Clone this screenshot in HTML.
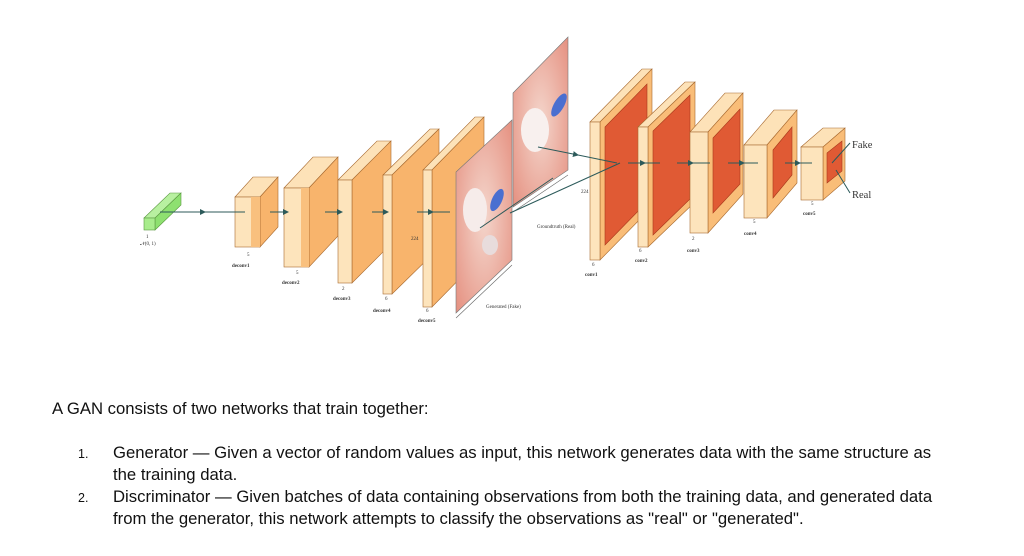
<!DOCTYPE html>
<html><head><meta charset="utf-8"><style>
html,body{margin:0;padding:0;background:#fff;width:1024px;height:556px;overflow:hidden}
.t{position:absolute;font-family:"Liberation Sans",Arial,sans-serif;font-size:16.7px;color:#111;line-height:21.5px;white-space:nowrap}
.n{font-size:12.5px}
</style></head><body>
<svg width="1024" height="360" style="position:absolute;left:0;top:0" font-family="Liberation Serif,serif">
<defs>
<radialGradient id="hm" cx="0.5" cy="0.5" r="0.7">
<stop offset="0" stop-color="#f4d6cc"/><stop offset="1" stop-color="#e59080"/></radialGradient>
<marker id="ah" markerWidth="6" markerHeight="6" refX="5" refY="3" orient="auto"><path d="M0,0L6,3L0,6z" fill="#2c5a5a"/></marker>
</defs>
<g stroke="#b07a40" stroke-width="0.6">
<polygon points="144,218 155,218 181,193 170,193" fill="#b8f0a0" stroke="#5a9a40"/>
<polygon points="155,218 181,193 181,205 155,230" fill="#8ee070" stroke="#5a9a40"/>
<rect x="144" y="218" width="11" height="12" fill="#a8ec8c" stroke="#5a9a40"/>
</g>
<g stroke="#a86a30" stroke-width="0.6">
<polygon points="235,197 260,197 278,177 253,177" fill="#fde2b8"/>
<polygon points="260,197 278,177 278,227 260,247" fill="#f8b46c"/>
<rect x="235" y="197" width="25" height="50" fill="#fde4bc"/><rect x="251" y="197" width="9" height="50" fill="#f9c07e" stroke="none"/>

<polygon points="284,188 309,188 338,157 313,157" fill="#fde2b8"/>
<polygon points="309,188 338,157 338,236 309,267" fill="#f8b46c"/>
<rect x="284" y="188" width="25" height="79" fill="#fde4bc"/><rect x="301" y="188" width="8" height="79" fill="#f9c07e" stroke="none"/>

<polygon points="338,180 352,180 391,141 377,141" fill="#fde2b8"/>
<polygon points="352,180 391,141 391,244 352,283" fill="#f8b46c"/>
<rect x="338" y="180" width="14" height="103" fill="#fde4bc"/>

<polygon points="383,175 392,175 439,129 430,129" fill="#fde2b8"/>
<polygon points="392,175 439,129 439,248 392,294" fill="#f8b46c"/>
<rect x="383" y="175" width="9" height="119" fill="#fde4bc"/>

<polygon points="423,170 432,170 484,117 475,117" fill="#fde2b8"/>
<polygon points="432,170 484,117 484,254 432,307" fill="#f8b46c"/>
<rect x="423" y="170" width="9" height="137" fill="#fde4bc"/>
</g>
<polygon points="456,172 512,120 512,260 456,313" fill="url(#hm)" stroke="#777" stroke-width="0.6"/>
<ellipse cx="475" cy="210" rx="12" ry="22" fill="#f6ecea"/>
<ellipse cx="497" cy="200" rx="5" ry="12" fill="#4a6fd0" transform="rotate(25 497 200)"/>
<ellipse cx="490" cy="245" rx="8" ry="10" fill="#e8dcdc"/>
<polygon points="513,93 568,37 568,170 513,207" fill="url(#hm)" stroke="#777" stroke-width="0.6"/>
<ellipse cx="535" cy="130" rx="14" ry="22" fill="#f8f0ee"/>
<ellipse cx="559" cy="105" rx="5" ry="13" fill="#4a6fd0" transform="rotate(30 559 105)"/>
<g stroke="#666" stroke-width="0.6">
<line x1="456" y1="318" x2="512" y2="265"/><line x1="513" y1="212" x2="568" y2="175"/>
</g>
<g stroke="#a86a30" stroke-width="0.6">
<polygon points="590,122 600,122 652,69 642,69" fill="#fde2b8"/>
<polygon points="600,122 652,69 652,207 600,260" fill="#f9bd78"/>
<rect x="590" y="122" width="10" height="138" fill="#fde4bc"/>
<polygon points="605,127 647,84 647,202 605,245" fill="#e05a34" stroke="#a8381a"/>

<polygon points="638,127 648,127 695,82 685,82" fill="#fde2b8"/>
<polygon points="648,127 695,82 695,202 648,247" fill="#f9bd78"/>
<rect x="638" y="127" width="10" height="120" fill="#fde4bc"/>
<polygon points="653,131 690,95 690,199 653,235" fill="#e05a34" stroke="#a8381a"/>

<polygon points="690,132 708,132 743,93 725,93" fill="#fde2b8"/>
<polygon points="708,132 743,93 743,194 708,233" fill="#f9bd78"/>
<rect x="690" y="132" width="18" height="101" fill="#fde4bc"/>
<polygon points="713,138 740,109 740,184 713,213" fill="#e05a34" stroke="#a8381a"/>

<polygon points="744,145 767,145 797,110 774,110" fill="#fde2b8"/>
<polygon points="767,145 797,110 797,183 767,218" fill="#f9bd78"/>
<rect x="744" y="145" width="23" height="73" fill="#fde4bc"/>
<polygon points="773,150 792,127 792,175 773,198" fill="#e05a34" stroke="#a8381a"/>

<polygon points="801,147 823,147 845,128 823,128" fill="#fde2b8"/>
<polygon points="823,147 845,128 845,181 823,200" fill="#f9bd78"/>
<rect x="801" y="147" width="22" height="53" fill="#fde4bc"/>
<polygon points="827,153 842,141 842,171 827,183" fill="#e05a34" stroke="#a8381a"/>
</g>
<g stroke="#2c5a5a" stroke-width="1" fill="none">
<line x1="160" y1="212" x2="205" y2="212" marker-end="url(#ah)"/><line x1="205" y1="212" x2="245" y2="212"/>
<line x1="270" y1="212" x2="288" y2="212" marker-end="url(#ah)"/>
<line x1="325" y1="212" x2="342" y2="212" marker-end="url(#ah)"/>
<line x1="372" y1="212" x2="388" y2="212" marker-end="url(#ah)"/>
<line x1="417" y1="212" x2="433" y2="212" marker-end="url(#ah)"/><line x1="433" y1="212" x2="450" y2="212"/>
<line x1="480" y1="228" x2="553" y2="178"/>
<line x1="510" y1="213" x2="620" y2="163"/>
<line x1="538" y1="147" x2="578" y2="155" marker-end="url(#ah)"/><line x1="578" y1="155" x2="617" y2="163"/>
<line x1="628" y1="163" x2="645" y2="163" marker-end="url(#ah)"/><line x1="645" y1="163" x2="660" y2="163"/>
<line x1="677" y1="163" x2="693" y2="163" marker-end="url(#ah)"/><line x1="693" y1="163" x2="710" y2="163"/>
<line x1="728" y1="163" x2="744" y2="163" marker-end="url(#ah)"/><line x1="744" y1="163" x2="758" y2="163"/>
<line x1="785" y1="163" x2="800" y2="163" marker-end="url(#ah)"/><line x1="800" y1="163" x2="812" y2="163"/>
<line x1="832" y1="163" x2="850" y2="143"/><line x1="836" y1="170" x2="850" y2="193"/>
</g>
<g font-size="5" fill="#333">
<text x="140" y="245">𝒩(0, 1)</text><text x="146" y="238">1</text>
<text x="232" y="267" font-weight="bold">deconv1</text><text x="247" y="256">5</text>
<text x="282" y="284" font-weight="bold">deconv2</text><text x="296" y="274">5</text>
<text x="333" y="300" font-weight="bold">deconv3</text><text x="342" y="290">2</text>
<text x="373" y="312" font-weight="bold">deconv4</text><text x="385" y="300">6</text>
<text x="418" y="322" font-weight="bold">deconv5</text><text x="426" y="312">6</text>
<text x="411" y="240">224</text>
<text x="486" y="308">Generated (Fake)</text>
<text x="537" y="228">Groundtruth (Real)</text>
<text x="581" y="193">224</text>
<text x="585" y="276" font-weight="bold">conv1</text><text x="592" y="266">6</text>
<text x="635" y="262" font-weight="bold">conv2</text><text x="639" y="252">6</text>
<text x="687" y="252" font-weight="bold">conv3</text><text x="692" y="240">2</text>
<text x="744" y="235" font-weight="bold">conv4</text><text x="753" y="223">5</text>
<text x="803" y="215" font-weight="bold">conv5</text><text x="811" y="205">5</text>
</g>
<text x="852" y="148" font-size="10.5" fill="#333">Fake</text>
<text x="852" y="198" font-size="10.5" fill="#333">Real</text>
</svg>
<div class="t" style="left:52px;top:398px">A GAN consists of two networks that train together:</div>
<div class="t n" style="left:78px;top:444px">1.</div>
<div class="t" style="left:113px;top:442px">Generator — Given a vector of random values as input, this network generates data with the same structure as<br>the training data.</div>
<div class="t n" style="left:78px;top:488px">2.</div>
<div class="t" style="left:113px;top:486px">Discriminator — Given batches of data containing observations from both the training data, and generated data<br>from the generator, this network attempts to classify the observations as "real" or "generated".</div>
</body></html>
